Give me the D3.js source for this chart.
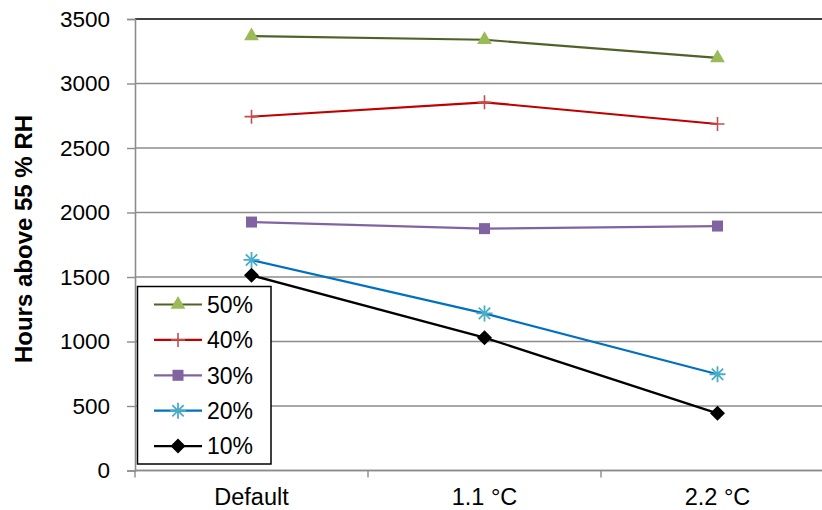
<!DOCTYPE html>
<html>
<head>
<meta charset="utf-8">
<script src="https://cdn.jsdelivr.net/npm/d3@7"></script>
<style>
  html, body { margin: 0; padding: 0; background: #fff; overflow: hidden; }
  svg { display: block; font-family: "Liberation Sans", Arial, sans-serif; }
</style>
</head>
<body>
<svg id="chart" width="822" height="510"></svg>
<script>
// Cooling setpoint scenarios along the x axis
const categories = ["Default", "1.1 °C", "2.2 °C"];
const yTicks = [0, 500, 1000, 1500, 2000, 2500, 3000, 3500];

// Hours above 55 % RH for each series
const s50 = [3368, 3339, 3198];
const s40 = [2743, 2854, 2686];
const s30 = [1926, 1875, 1895];
const s20 = [1632, 1218, 746];
const s10 = [1513, 1030, 443];

const series = [
  { name: "50%", values: s50, line: "#4F6228", marker: "#9BBB59", shape: "triangle" },
  { name: "40%", values: s40, line: "#C00000", marker: "#C0504D", shape: "plus" },
  { name: "30%", values: s30, line: "#8064A2", marker: "#8064A2", shape: "square" },
  { name: "20%", values: s20, line: "#0070C0", marker: "#4BACC6", shape: "asterisk" },
  { name: "10%", values: s10, line: "#000000", marker: "#000000", shape: "diamond" }
];

const svg = d3.select("#chart");
const plotLeft = 135, plotRight = 834, plotTop = 19, plotBottom = 470.5;

const x = d3.scaleBand().domain(categories).range([plotLeft, plotRight]);
const y = d3.scaleLinear().domain([0, 3500]).range([plotBottom, plotTop]);
const cx = d => x(d) + x.bandwidth() / 2;

// Horizontal gridlines
const grid = svg.append("g");
yTicks.forEach(t => {
  grid.append("line")
    .attr("x1", plotLeft).attr("x2", plotRight)
    .attr("y1", y(t)).attr("y2", y(t))
    .attr("stroke", t === 3500 ? "#000" : "#8c8c8c")
    .attr("stroke-width", t === 3500 ? 1.6 : 1.4);
});

// Y axis
const yAxis = svg.append("g")
  .attr("transform", `translate(${plotLeft},0)`)
  .call(d3.axisLeft(y).tickValues(yTicks).tickSize(8).tickPadding(17).tickFormat(d3.format("d")));
yAxis.select(".domain").attr("stroke", "#8c8c8c").attr("stroke-width", 1.6);
yAxis.selectAll(".tick line").attr("stroke", "#8c8c8c").attr("stroke-width", 1.4);
yAxis.selectAll(".tick text").attr("font-size", 22.5).attr("fill", "#000")
  .attr("font-family", "Liberation Sans, Arial, sans-serif");

// X axis with boundary ticks between categories
const xAxisG = svg.append("g").attr("transform", `translate(0,${plotBottom})`);
xAxisG.append("line").attr("x1", plotLeft).attr("x2", plotRight).attr("y1", 0).attr("y2", 0)
  .attr("stroke", "#8c8c8c").attr("stroke-width", 1.6);
categories.concat([null]).forEach((c, i) => {
  const xp = plotLeft + i * x.bandwidth();
  xAxisG.append("line").attr("x1", xp).attr("x2", xp).attr("y1", 0).attr("y2", 7)
    .attr("stroke", "#8c8c8c").attr("stroke-width", 1.4);
});
xAxisG.selectAll("text.cat").data(categories).enter().append("text")
  .attr("class", "cat")
  .attr("x", d => cx(d)).attr("y", 34.5)
  .attr("text-anchor", "middle").attr("font-size", 23.5).attr("fill", "#000")
  .text(d => d);

// Y axis title
svg.append("text")
  .attr("transform", `translate(32,239) rotate(-90)`)
  .attr("text-anchor", "middle").attr("font-size", 24).attr("font-weight", "bold")
  .attr("fill", "#000")
  .text("Hours above 55 % RH");

// Marker drawing
function drawMarker(g, shape, color, px, py) {
  if (shape === "triangle") {
    g.append("path").attr("d", d3.symbol(d3.symbolTriangle, 95)()).attr("transform", `translate(${px},${py})`).attr("fill", color);
  } else if (shape === "square") {
    g.append("rect").attr("x", px - 5.5).attr("y", py - 5.5).attr("width", 11).attr("height", 11).attr("fill", color);
  } else if (shape === "diamond") {
    g.append("path").attr("d", `M${px},${py - 7.5}L${px + 7.5},${py}L${px},${py + 7.5}L${px - 7.5},${py}Z`).attr("fill", color);
  } else if (shape === "plus") {
    g.append("path").attr("d", `M${px - 7},${py}H${px + 7}M${px},${py - 7}V${py + 7}`)
      .attr("stroke", color).attr("stroke-width", 1.6).attr("fill", "none");
  } else if (shape === "asterisk") {
    const r = 8, a = r * Math.cos(Math.PI / 4);
    g.append("path").attr("d",
      `M${px - r},${py}H${px + r}M${px - a},${py - a}L${px + a},${py + a}M${px - a},${py + a}L${px + a},${py - a}M${px},${py - r}V${py + r}`)
      .attr("stroke", color).attr("stroke-width", 1.8).attr("fill", "none");
  }
}

// Series lines and markers
const line = d3.line().x((d, i) => cx(categories[i])).y(d => y(d));
series.forEach(s => {
  const g = svg.append("g");
  g.append("path").datum(s.values).attr("d", line)
    .attr("fill", "none").attr("stroke", s.line).attr("stroke-width", 2.2);
  s.values.forEach((v, i) => drawMarker(g, s.shape, s.marker, cx(categories[i]), y(v)));
});

// Legend
const lg = svg.append("g");
lg.append("rect").attr("x", 137.5).attr("y", 286.5).attr("width", 133.5).attr("height", 177.5)
  .attr("fill", "#fff").attr("stroke", "#000").attr("stroke-width", 1.5);
series.forEach((s, i) => {
  const ly = 304.5 + i * 35.4;
  lg.append("line").attr("x1", 154).attr("x2", 202).attr("y1", ly).attr("y2", ly)
    .attr("stroke", s.line).attr("stroke-width", 2.2);
  drawMarker(lg, s.shape, s.marker, 178, ly);
  lg.append("text").attr("x", 207).attr("y", ly + 8.2).attr("font-size", 23).attr("fill", "#000").text(s.name);
});
</script>
</body>
</html>
